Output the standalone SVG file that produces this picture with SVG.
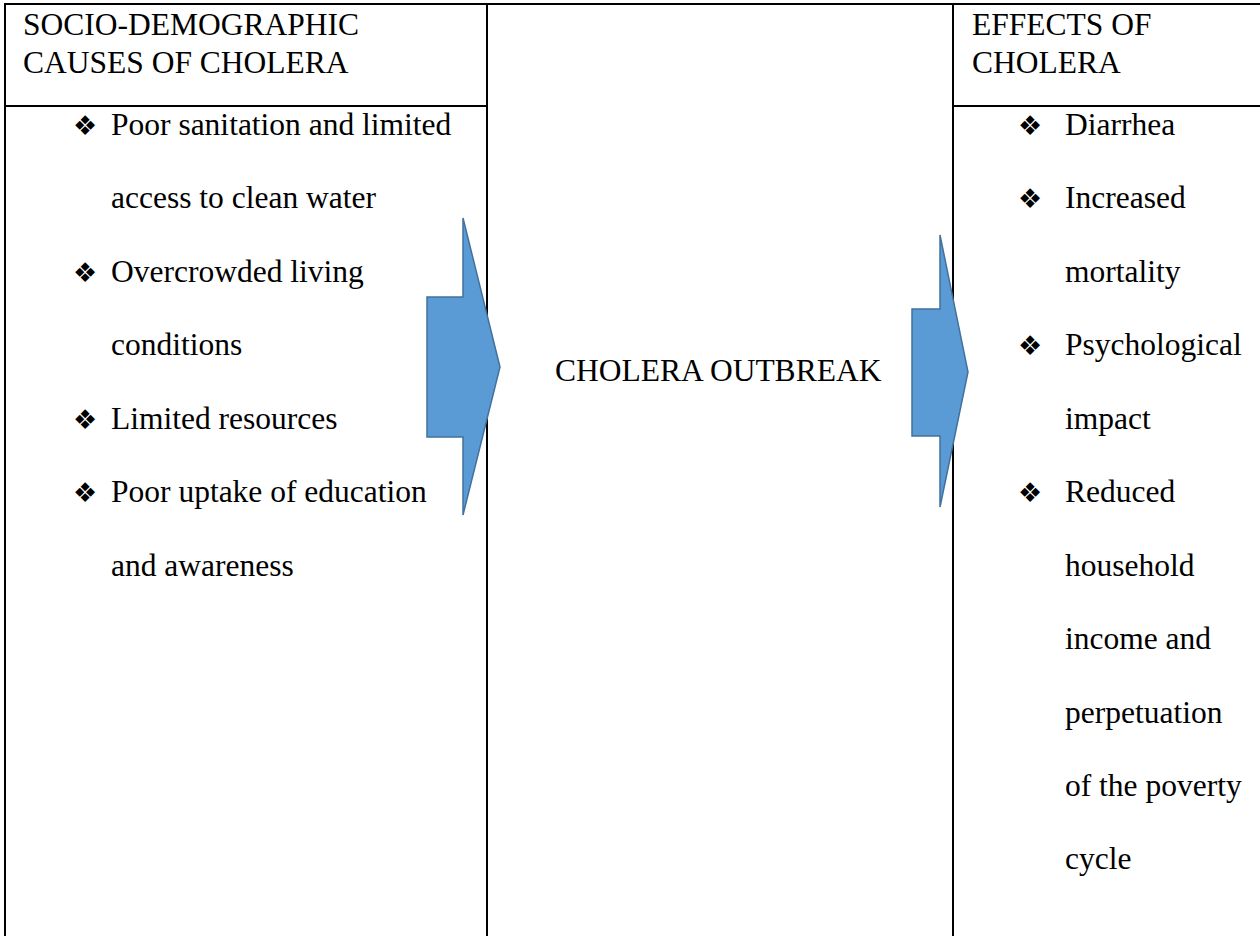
<svg xmlns="http://www.w3.org/2000/svg" width="1260" height="936" viewBox="0 0 1260 936">
<style>
.ln{stroke:#000;stroke-width:2;fill:none}
.t{font-family:"Liberation Serif","Times New Roman",serif;font-size:31.5px;fill:#000}
.b{font-family:"DejaVu Sans",sans-serif;font-size:27px;fill:#000}
.arr{fill:#5B9BD5;stroke:#41719C;stroke-width:1.5}
</style>
<rect width="1260" height="936" fill="#fff"/>
<g id="table">
<line class="ln" x1="4" y1="4" x2="1260" y2="4"/>
<line class="ln" x1="5" y1="4" x2="5" y2="936"/>
<line class="ln" x1="487" y1="4" x2="487" y2="936"/>
<line class="ln" x1="953" y1="4" x2="953" y2="936"/>
<line class="ln" x1="5" y1="106" x2="487" y2="106"/>
<line class="ln" x1="953" y1="106" x2="1260" y2="106"/>
</g>
<g id="causes">
<text class="t" x="23" y="35">SOCIO-DEMOGRAPHIC</text>
<text class="t" x="23" y="73">CAUSES OF CHOLERA</text>
<g class="b">
<text x="73" y="135">❖</text>
<text x="73" y="282">❖</text>
<text x="73" y="429">❖</text>
<text x="73" y="502">❖</text>
</g>
<g class="t">
<text x="111" y="135">Poor sanitation and limited</text>
<text x="111" y="208">access to clean water</text>
<text x="111" y="282">Overcrowded living</text>
<text x="111" y="355">conditions</text>
<text x="111" y="429">Limited resources</text>
<text x="111" y="502">Poor uptake of education</text>
<text x="111" y="576">and awareness</text>
</g>
</g>
<g id="outbreak">
<text class="t" x="555" y="381">CHOLERA OUTBREAK</text>
</g>
<g id="effects">
<text class="t" x="972" y="35">EFFECTS OF</text>
<text class="t" x="972" y="73">CHOLERA</text>
<g class="b">
<text x="1018" y="135">❖</text>
<text x="1018" y="208">❖</text>
<text x="1018" y="355">❖</text>
<text x="1018" y="502">❖</text>
</g>
<g class="t">
<text x="1065" y="135">Diarrhea</text>
<text x="1065" y="208">Increased</text>
<text x="1065" y="282">mortality</text>
<text x="1065" y="355">Psychological</text>
<text x="1065" y="429">impact</text>
<text x="1065" y="502">Reduced</text>
<text x="1065" y="576">household</text>
<text x="1065" y="649">income and</text>
<text x="1065" y="723">perpetuation</text>
<text x="1065" y="796">of the poverty</text>
<text x="1065" y="869">cycle</text>
</g>
</g>
<g id="connectors">
<polygon class="arr" points="427,297 463,297 463,218 500,367 463,515 463,437 427,437"/>
<polygon class="arr" points="912,309 940,309 940,235 968,372 940,507 940,436 912,436"/>
</g>
</svg>
